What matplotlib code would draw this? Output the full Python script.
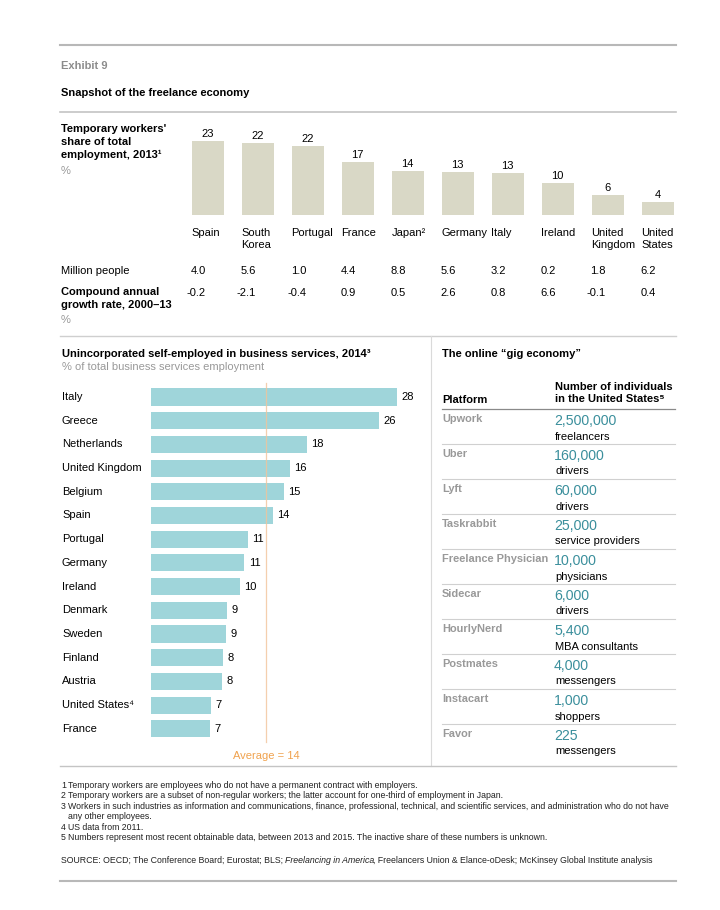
import matplotlib
matplotlib.use("Agg")
import matplotlib.pyplot as plt
from matplotlib.transforms import blended_transform_factory as blend

plt.rcParams['font.family'] = ['Liberation Sans', 'DejaVu Sans']

# temporary workers' share of total employment, 2013
temp_countries = ["Spain", "South\nKorea", "Portugal", "France", "Japan²", "Germany",
                  "Italy", "Ireland", "United\nKingdom", "United\nStates"]
temp_share = [23.0, 22.4, 21.4, 16.5, 13.6, 13.3, 12.9, 9.8, 6.2, 4.1]
temp_labels = ["23", "22", "22", "17", "14", "13", "13", "10", "6", "4"]
temp_million = ["4.0", "5.6", "1.0", "4.4", "8.8", "5.6", "3.2", "0.2", "1.8", "6.2"]
temp_cagr = ["-0.2", "-2.1", "-0.4", "0.9", "0.5", "2.6", "0.8", "6.6", "-0.1", "0.4"]

# unincorporated self-employed in business services, 2014
self_countries = ["Italy", "Greece", "Netherlands", "United Kingdom", "Belgium", "Spain",
                  "Portugal", "Germany", "Ireland", "Denmark", "Sweden", "Finland",
                  "Austria", "United States⁴", "France"]
self_share = [27.9, 25.9, 17.7, 15.8, 15.1, 13.8, 11.0, 10.6, 10.1, 8.6, 8.5, 8.2, 8.1, 6.8, 6.7]
self_labels = ["28", "26", "18", "16", "15", "14", "11", "11", "10", "9", "9", "8", "8", "7", "7"]
avg_line = 13.05
avg_label = "Average = 14"

# online gig economy
platforms = ["Upwork", "Uber", "Lyft", "Taskrabbit", "Freelance Physician", "Sidecar",
             "HourlyNerd", "Postmates", "Instacart", "Favor"]
gig_counts = [2500000, 160000, 60000, 25000, 10000, 6000, 5400, 4000, 1000, 225]
gig_units = ["freelancers", "drivers", "drivers", "service providers", "physicians", "drivers",
             "MBA consultants", "messengers", "shoppers", "messengers"]

footnotes = [
    ("1", "Temporary workers are employees who do not have a permanent contract with employers."),
    ("2", "Temporary workers are a subset of non-regular workers; the latter account for one-third of employment in Japan."),
    ("3", "Workers in such industries as information and communications, finance, professional, technical, and scientific services, and administration who do not have"),
    ("", "any other employees."),
    ("4", "US data from 2011."),
    ("5", "Numbers represent most recent obtainable data, between 2013 and 2015. The inactive share of these numbers is unknown."),
]

FS = 8.0
FN = 6.35
TEAL_BAR = '#9fd5da'
BEIGE = '#d9d8c6'
TEAL_TXT = '#3b8f9c'
ORANGE = '#f0a24e'
GRAY = '#999999'

fig = plt.figure(figsize=(7.2, 9.1), dpi=100)
bg = fig.add_axes([0, 0, 1, 1])
bg.set_xlim(0, 720)
bg.set_ylim(910, 0)
bg.axis('off')


def px_axes(x0, y0, x1, y1):
    a = fig.add_axes([x0 / 720, 1 - y1 / 910, (x1 - x0) / 720, (y1 - y0) / 910])
    a.axis('off')
    return a


# frame lines
bg.plot([60, 676], [45, 45], color='#b8b8b8', lw=1.5)
bg.plot([60, 676], [112, 112], color='#c4c4c4', lw=1.2)
bg.plot([60, 676], [336, 336], color='#cfcfcf', lw=1.0)
bg.plot([431, 431], [336, 766], color='#dadada', lw=0.8)
bg.plot([60, 676], [766, 766], color='#c4c4c4', lw=1.0)
bg.plot([60, 676], [881, 881], color='#b8b8b8', lw=1.5)

bg.text(61, 66, "Exhibit 9", fontsize=FS, fontweight='bold', color='#8c8c8c', va='center')
bg.text(61, 93, "Snapshot of the freelance economy", fontsize=FS, fontweight='bold', va='center')

# ---- top section
bg.text(61, 124, "Temporary workers'\nshare of total\nemployment, 2013¹", fontsize=FS,
        fontweight='bold', va='top', linespacing=1.38)
bg.text(61, 171, "%", fontsize=FS, color=GRAY, va='center')

ax1 = px_axes(182.5, 125, 682.5, 215)
ax1.set_xlim(-0.5, 9.5)
ax1.set_ylim(0, 90 / 3.22)
xs = range(len(temp_share))
ax1.bar(xs, temp_share, width=0.64, color=BEIGE)
for i, v in enumerate(temp_share):
    ax1.annotate(temp_labels[i], (i, v), xytext=(0, 1.5), textcoords='offset points',
                 ha='center', va='bottom', fontsize=FS, annotation_clip=False)

tr = blend(ax1.transData, bg.transData)
for i, name in enumerate(temp_countries):
    bg.text(i - 0.32, 228, name, transform=tr, fontsize=FS, va='top', ha='left', linespacing=1.3)
    bg.text(i - 0.03, 271, temp_million[i], transform=tr, fontsize=FS, va='center', ha='right')
    bg.text(i - 0.03, 293, temp_cagr[i], transform=tr, fontsize=FS, va='center', ha='right')

bg.text(61, 271, "Million people", fontsize=FS, va='center')
bg.text(61, 287, "Compound annual\ngrowth rate, 2000–13", fontsize=FS, fontweight='bold',
        va='top', linespacing=1.38)
bg.text(61, 320, "%", fontsize=FS, color=GRAY, va='center')

# ---- bottom left: self-employed
bg.text(62, 354, "Unincorporated self-employed in business services, 2014³", fontsize=FS,
        fontweight='bold', va='center')
bg.text(62, 367, "% of total business services employment", fontsize=FS, color=GRAY, va='center')

ax2 = px_axes(151, 385.15, 431, 740.65)
ax2.set_xlim(0, 280 / 8.82)
ax2.set_ylim(len(self_share) - 0.5, -0.5)
ys = range(len(self_share))
ax2.barh(ys, self_share, height=0.72, color=TEAL_BAR)
for i, v in enumerate(self_share):
    ax2.annotate(self_labels[i], (v, i), xytext=(3, 0), textcoords='offset points',
                 ha='left', va='center', fontsize=FS, annotation_clip=False)
ax2.plot([avg_line, avg_line], [-0.6, len(self_share) - 0.45], color='#f2c49a', lw=0.9,
         alpha=0.8, clip_on=False, zorder=3)
tr2 = blend(bg.transData, ax2.transData)
for i, name in enumerate(self_countries):
    bg.text(62, i, name, transform=tr2, fontsize=FS, va='center')
ax2.text(avg_line, len(self_share) - 0.05, avg_label, color=ORANGE, fontsize=FS,
         ha='center', va='top', clip_on=False)

# ---- bottom right: gig economy table
bg.text(442, 354, "The online \u201cgig economy\u201d", fontsize=FS, fontweight='bold', va='center')
bg.text(442, 400, "Platform", fontsize=FS, fontweight='bold', va='center')
bg.text(555, 393, "Number of individuals\nin the United States⁵", fontsize=FS, fontweight='bold',
        va='center', linespacing=1.35)
bg.plot([442, 675], [409, 409], color='#8a8a8a', lw=0.9)
for i, name in enumerate(platforms):
    y0 = 409 + 35 * i
    bg.text(442, y0 + 10, name, fontsize=7.9, fontweight='bold', color=GRAY, va='center')
    bg.text(554, y0 + 12, f"{gig_counts[i]:,}", fontsize=10.2, color=TEAL_TXT, va='center')
    bg.text(555, y0 + 27.5, gig_units[i], fontsize=8.0, va='center')
    if i < len(platforms) - 1:
        bg.plot([442, 675], [y0 + 35, y0 + 35], color='#d0d0d0', lw=0.8)

# ---- footnotes
for k, (num, txt) in enumerate(footnotes):
    y = 785 + 10.6 * k
    bg.text(61, y, num, fontsize=FN, color='#222222', va='center')
    bg.text(68, y, txt, fontsize=FN, color='#222222', va='center')

s1 = bg.text(61, 865, "SOURCE: OECD; The Conference Board; Eurostat; BLS; ", fontsize=FN,
             color='#222222', va='bottom')
s2 = bg.annotate("Freelancing in America", xy=(1, 0), xycoords=s1, fontsize=FN,
                 style='italic', color='#222222', va='bottom')
bg.annotate(", Freelancers Union & Elance-oDesk; McKinsey Global Institute analysis", xy=(1, 0),
            xycoords=s2, xytext=(-1.5, 0), textcoords='offset pixels', fontsize=FN,
            color='#222222', va='bottom')

fig.savefig("out.png", dpi=100, facecolor='white')
